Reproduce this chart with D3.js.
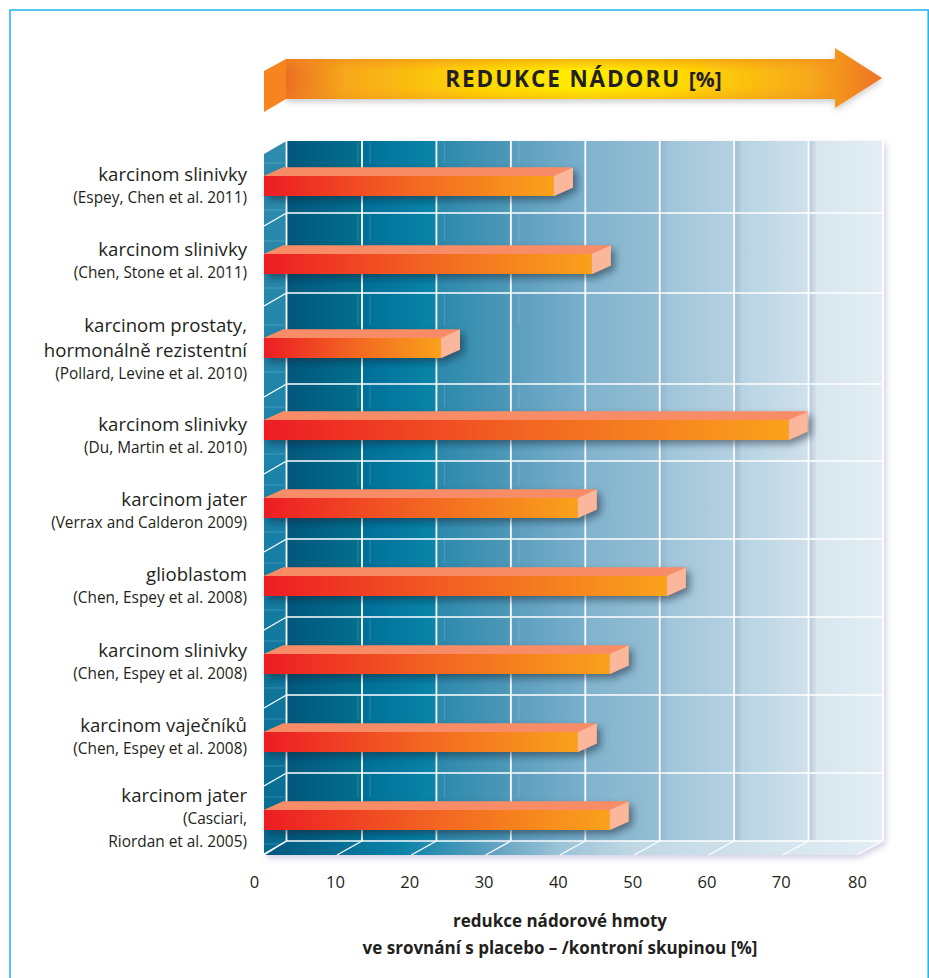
<!DOCTYPE html>
<html><head><meta charset="utf-8">
<script src="https://cdn.jsdelivr.net/npm/d3@7"></script>
<style>html,body{margin:0;background:#fff;overflow:hidden}svg{display:block}text{font-family:"Open Sans",sans-serif;fill:#231f20}</style>
</head><body><svg id="c" width="929" height="978"></svg>
<script>
// ---- data ----
const studyTitles=[["karcinom slinivky"],["karcinom slinivky"],["karcinom prostaty,","hormonálně rezistentní"],["karcinom slinivky"],["karcinom jater"],["glioblastom"],["karcinom slinivky"],["karcinom vaječníků"],["karcinom jater"]];
const studyRefs=[["(Espey, Chen et al. 2011)"],["(Chen, Stone et al. 2011)"],["(Pollard, Levine et al. 2010)"],["(Du, Martin et al. 2010)"],["(Verrax and Calderon 2009)"],["(Chen, Espey et al. 2008)"],["(Chen, Espey et al. 2008)"],["(Chen, Espey et al. 2008)"],["(Casciari,","Riordan et al. 2005)"]];
const reduction=[39.2,44.3,24,70.8,42.4,54.4,46.7,42.4,46.7];
const ticks=[0,10,20,30,40,50,60,70,80];
const titleText="REDUKCE NÁDORU";
const titleUnit="[%]";
const axisLines=["redukce nádorové hmoty","ve srovnání s placebo – /kontroní skupinou [%]"];
const cellColors=[["#02567c","#02708f"],["#006f98","#0a85a8"],["#2a89ab","#4f98b8"],["#5a9dbd","#7ab0cc"],["#80b3cd","#95bed4"],["#a0c5d9","#b5d1e1"],["#b7d3e2","#d0e1eb"],["#d8e6ee","#e3eef4"]];
const cellShade=[null,null,null,null,null,"#93b4cf","#a6bcd6","#b8c6de"];

// ---- layout ----
const svg=d3.select("#c"), defs=svg.append("defs");
const xFront=d3.scaleLinear().domain([0,10,80]).range([264,337,857]);
const xBack=d3.scaleLinear().domain([0,10,80]).range([286.5,362,883]);
const yBar=d3.scaleLinear().domain([0,1,2,3,4,8]).range([176,254,338,420,498,810]);
const yGrid=d3.scaleLinear().domain([0,1,2,3,4,8,9]).range([141,213,293,384,461,773,841]);
const yLabel=d3.scaleLinear().domain([0,1,2,3,4,7,8]).range([181,256,332,431,506,732,802]);
const barH=20, topDy=8.5, topDx=19;
const wallBottom=841, floorFront=855, sideTop=13;

function lin(id,stops,x1=0,y1=0,x2=1,y2=0){
  const g=defs.append("linearGradient").attr("id",id).attr("x1",x1).attr("y1",y1).attr("x2",x2).attr("y2",y2);
  stops.forEach(([o,c,a])=>{const s=g.append("stop").attr("offset",o).attr("stop-color",c);if(a!==undefined)s.attr("stop-opacity",a);});
}
const blur=(id,s,dx,dy,op,col)=>{const f=defs.append("filter").attr("id",id).attr("x","-10%").attr("y","-40%").attr("width","120%").attr("height","180%");
  f.append("feDropShadow").attr("dx",dx).attr("dy",dy).attr("stdDeviation",s).attr("flood-color",col).attr("flood-opacity",op);};
blur("arrowSh",3,0,3,.3,"#555");
blur("wallSh",3,3,3,.45,"#9a94c4");
blur("barSh",3.5,4,4,.5,"#123");
lin("arrowG",[[0,"#ec6f24"],[.1,"#f7a81b"],[.35,"#ffdc00"],[.5,"#ffee00"],[.65,"#ffdc00"],[.88,"#f7a81b"],[1,"#ee7322"]]);
lin("arrowV",[[0,"#f08a1d",.55],[.3,"#f7941d",0],[.7,"#f7941d",0],[1,"#f08a1d",.35]],0,0,0,1);
lin("floorG",[[0,"#02567c"],[.22,"#0b82a8"],[.36,"#5b9fbf"],[.48,"#9cc3d8"],[.6,"#c0d8e4"],[1,"#e3eef4"]]);
lin("sideG",[[0,"#2e8bad"],[.5,"#1a82a8"],[1,"#056a90"]],0,0,0,1);

// frame
svg.append("path").attr("d","M10,978V10H928.2V978").attr("fill","none").attr("stroke","#19b5ec").attr("stroke-width",1.5);

// arrow banner
const arrow=svg.append("g");
arrow.append("path").attr("d","M286,59H835V48L882,78L835,108V99H286Z").attr("fill","url(#arrowG)").attr("filter","url(#arrowSh)");
arrow.append("rect").attr("x",286).attr("y",59).attr("width",549).attr("height",40).attr("fill","url(#arrowV)");
arrow.append("path").attr("d","M264,71L286,59V99L264,112Z").attr("fill","#f6851f");
const t=arrow.append("text").attr("x",583.5).attr("y",87.3).attr("text-anchor","middle").attr("font-size",22.5).attr("font-weight",700);
t.append("tspan").attr("letter-spacing",1.9).text(titleText+" ");
t.append("tspan").attr("font-size",21).text(titleUnit);

// chart box
const box=svg.append("g");
const bt=yGrid(0);
box.append("path").attr("d",`M${xBack(0)},${bt}H${xBack(80)}V${wallBottom}L${xFront(80)},${floorFront}H${xFront(0)}V${bt+sideTop}Z`).attr("fill","#fff").attr("filter","url(#wallSh)");
// cells
ticks.slice(0,-1).forEach((v,i)=>{
  const st=cellShade[i]?[[0,cellShade[i]],[.12,cellColors[i][0]],[1,cellColors[i][1]]]:[[0,cellColors[i][0]],[1,cellColors[i][1]]];
  lin("cell"+i,st);
  box.append("rect").attr("x",xBack(v)).attr("y",bt).attr("width",xBack(ticks[i+1])-xBack(v)).attr("height",wallBottom-bt).attr("fill",`url(#cell${i})`);
});
// side wall and floor
box.append("path").attr("d",`M${xFront(0)},${bt+sideTop}L${xBack(0)},${bt}V${wallBottom}L${xFront(0)},${floorFront}Z`).attr("fill","url(#sideG)");
box.append("path").attr("d",`M${xFront(0)},${floorFront}L${xBack(0)},${wallBottom}H${xBack(80)}L${xFront(80)},${floorFront}Z`).attr("fill","url(#floorG)");
// faint wall reflections
const faint=box.append("g").attr("stroke","#fff").attr("stroke-width",.8).attr("stroke-opacity",.22).attr("fill","none");
reduction.forEach((v,i)=>{
  const y=yBar(i);
  [y-13,y+34].forEach(fy=>faint.append("line").attr("x1",xFront(0)).attr("x2",xBack(0)-2).attr("y1",fy).attr("y2",fy));
});
[10,20,30].forEach(v=>d3.range(0,9).forEach(i=>{
  faint.append("line").attr("x1",xBack(v)+8).attr("x2",xBack(v)+8).attr("y1",yGrid(i)+1).attr("y2",yBar(i)-13);
  if(v===10) faint.append("line").attr("x1",xBack(v)-4).attr("x2",xBack(v)-4).attr("y1",yGrid(i)+1).attr("y2",yBar(i)-13);
}));
[60,70].forEach(v=>faint.append("line").attr("x1",xBack(v)+8).attr("x2",xBack(v)+8).attr("y1",bt).attr("y2",wallBottom));
// grid
const grid=box.append("g").attr("stroke","#fff").attr("fill","none");
ticks.forEach(v=>{
  grid.append("line").attr("stroke-width",1.8).attr("x1",xBack(v)).attr("x2",xBack(v)).attr("y1",bt).attr("y2",wallBottom);
  grid.append("line").attr("stroke-width",1.3).attr("x1",xBack(v)).attr("x2",xFront(v)).attr("y1",wallBottom).attr("y2",floorFront);
});
d3.range(1,10).forEach(i=>{
  const y=yGrid(i);
  grid.append("line").attr("stroke-width",1.4).attr("x1",xBack(0)).attr("x2",xBack(80)).attr("y1",y).attr("y2",y);
  grid.append("line").attr("stroke-width",1.3).attr("x1",xBack(0)).attr("x2",xFront(0)).attr("y1",y).attr("y2",y+sideTop);
});

// bars
const bars=box.selectAll("g.bar").data(reduction).join("g").attr("class","bar");
bars.each(function(v,i){
  const g=d3.select(this),x0=xFront(0),x1=xFront(v),y=yBar(i);
  g.append("path").attr("d",`M${x0},${y}L${x0+topDx},${y-topDy}H${x1+topDx}V${y+barH-topDy}L${x1},${y+barH}H${x0}Z`).attr("fill","#f78c66").attr("filter","url(#barSh)");
  g.append("path").attr("d",`M${x0},${y}L${x0+topDx},${y-topDy}H${x1+topDx}L${x1},${y}Z`).attr("fill","#f78c66");
  g.append("path").attr("d",`M${x1},${y}L${x1+topDx},${y-topDy}V${y+barH-topDy}L${x1},${y+barH}Z`).attr("fill","#fbb79c");
  lin("bar"+i,[[0,"#ed1c24"],[.5,"#f26522"],[1,"#faa21b"]]);
  g.append("rect").attr("x",x0).attr("y",y).attr("width",x1-x0).attr("height",barH).attr("fill",`url(#bar${i})`);
});

// row labels
const labelX=247;
studyTitles.forEach((title,i)=>{
  const y=yLabel(i);
  title.forEach((s,j)=>svg.append("text").attr("x",labelX).attr("y",y+j*25).attr("text-anchor","end").attr("font-size",18.6).text(s));
  const ry=y+(title.length-1)*25+22;
  studyRefs[i].forEach((s,j)=>svg.append("text").attr("x",labelX).attr("y",ry+j*23).attr("text-anchor","end").attr("font-size",15.4).text(s));
});

// axis labels (d3 axis)
const axis=svg.append("g").attr("transform","translate(0,888)").call(d3.axisBottom(xFront).tickValues(ticks).tickSize(0).tickPadding(0));
axis.select(".domain").remove();
axis.selectAll("text").attr("font-size",16.5).attr("font-family",'"Open Sans",sans-serif').attr("fill","#231f20").attr("dy",0).attr("y",0)
  .attr("dx",d=>d===0?-10:d===80?0:-2).attr("text-anchor","middle");

axisLines.forEach((s,i)=>svg.append("text").attr("x",560).attr("y",927+i*27).attr("text-anchor","middle").attr("font-size",17).attr("font-weight",700).text(s));
</script></body></html>
